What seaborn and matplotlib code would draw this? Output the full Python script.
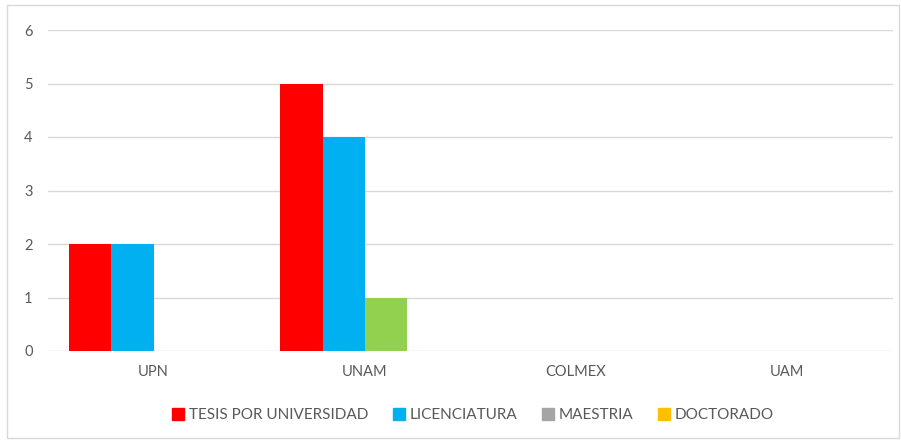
import numpy as np
import pandas as pd
import matplotlib
matplotlib.use('Agg')
import matplotlib.pyplot as plt
import matplotlib.patches as mpatches
import seaborn as sns

# datos
universidades = ['UPN', 'UNAM', 'COLMEX', 'UAM']
series = ['TESIS POR UNIVERSIDAD', 'LICENCIATURA', 'MAESTRIA', 'DOCTORADO']
tesis = [2, 5, 0, 0]
licenciatura = [2, 4, 0, 0]
maestria = [0, 1, 0, 0]
doctorado = [0, 0, 0, 0]
colores = ['#FF0000', '#00B0F0', '#A5A5A5', '#FFC000']
color_punto = '#92D050'   # la barra de maestria en UNAM sale verde

df = pd.DataFrame({
    'universidad': universidades * 4,
    'nivel': np.repeat(series, 4),
    'valor': tesis + licenciatura + maestria + doctorado,
})

sns.set_theme(style='white')
plt.rcParams['font.family'] = ['Lato', 'DejaVu Sans']

fig = plt.figure(figsize=(9.01, 4.43), dpi=100)
ax = fig.add_axes([48 / 901, 1 - 351 / 443, (893 - 48) / 901, (351 - 30) / 443])

sns.barplot(data=df, x='universidad', y='valor', hue='nivel', hue_order=series,
            order=universidades, palette=colores, width=0.8, saturation=1,
            linewidth=0, ax=ax, legend=False)

# color distinto para un punto
ax.containers[2][1].set_facecolor(color_punto)

ax.set_ylim(0, 6)
ax.set_yticks(range(0, 7))
ax.set_xlim(-0.5, 3.5)
ax.yaxis.grid(True, color='#D9D9D9', linewidth=1)
ax.set_axisbelow(True)
for s in ax.spines.values():
    s.set_visible(False)
ax.set_xlabel('')
ax.set_ylabel('')
ax.tick_params(axis='both', length=0, labelsize=10.5, colors='#595959')
ax.tick_params(axis='x', pad=10)
ax.tick_params(axis='y', pad=11)

handles = [mpatches.Patch(color=c, label=s) for c, s in zip(colores, series)]
fig.legend(handles=handles, loc='center', bbox_to_anchor=(0.525, 0.063), ncol=4,
           frameon=False, fontsize=11, handlelength=0.8, handleheight=0.8,
           handletextpad=0.3, columnspacing=1.6, labelcolor='#595959')

# marco del grafico
fig.patches.append(mpatches.Rectangle((7 / 901, 5 / 443), 892 / 901, 433 / 443,
                                      transform=fig.transFigure, fill=False,
                                      edgecolor='#D9D9D9', linewidth=1))

fig.savefig('out.png', dpi=100)
